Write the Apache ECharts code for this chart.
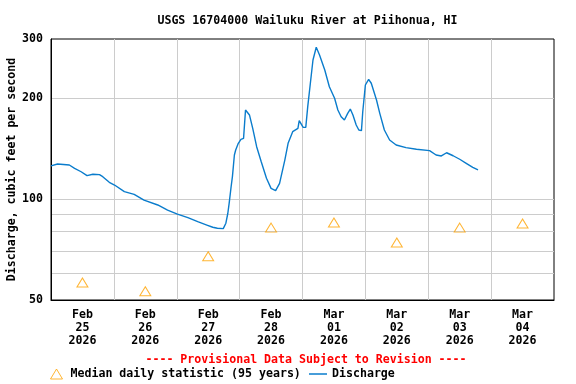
<!DOCTYPE html>
<html><head><meta charset="utf-8">
<script src="https://cdn.jsdelivr.net/npm/echarts@6/dist/echarts.min.js"></script>
<style>html,body{margin:0;padding:0;background:#fff}#c{width:576px;height:384px}</style>
</head><body><div id="c"></div>
<script>
const chartTitle = 'USGS 16704000 Wailuku River at Piihonua, HI';
const provisionalNote = '---- Provisional Data Subject to Revision ----';
const yAxisName = 'Discharge, cubic feet per second';
const medianName = 'Median daily statistic (95 years)';
const dischargeName = 'Discharge';

const medianTimes = ['2026-02-25T12:00','2026-02-26T12:00','2026-02-27T12:00','2026-02-28T12:00',
  '2026-03-01T12:00','2026-03-02T12:00','2026-03-03T12:00','2026-03-04T12:00'];
const medianValues = [56.4, 53.1, 67.5, 82.2, 85.1, 74.2, 82.2, 84.5];

const dischargeTimes = [
 '2026-02-25T00:00','2026-02-25T02:30','2026-02-25T07:00','2026-02-25T09:00','2026-02-25T11:30',
 '2026-02-25T13:45','2026-02-25T16:00','2026-02-25T18:30','2026-02-25T19:45','2026-02-25T22:15',
 '2026-02-26T00:15','2026-02-26T04:00','2026-02-26T07:45','2026-02-26T11:30','2026-02-26T16:45',
 '2026-02-26T20:30','2026-02-27T00:15','2026-02-27T04:15','2026-02-27T08:00','2026-02-27T11:45',
 '2026-02-27T13:45','2026-02-27T15:30','2026-02-27T17:45','2026-02-27T18:45','2026-02-27T19:30',
 '2026-02-27T20:00','2026-02-27T20:45','2026-02-27T21:15','2026-02-27T22:00','2026-02-27T22:30',
 '2026-02-27T23:30','2026-02-28T00:30','2026-02-28T01:30','2026-02-28T02:15','2026-02-28T02:45',
 '2026-02-28T03:45','2026-02-28T05:00','2026-02-28T06:30','2026-02-28T08:15','2026-02-28T10:15',
 '2026-02-28T12:00','2026-02-28T13:45','2026-02-28T15:15','2026-02-28T17:15','2026-02-28T18:30',
 '2026-02-28T20:15','2026-02-28T22:15','2026-02-28T22:45','2026-03-01T00:15','2026-03-01T01:15',
 '2026-03-01T02:00','2026-03-01T03:00','2026-03-01T04:00','2026-03-01T05:15','2026-03-01T06:30',
 '2026-03-01T08:30','2026-03-01T10:15','2026-03-01T12:15','2026-03-01T13:30','2026-03-01T14:45',
 '2026-03-01T16:00','2026-03-01T16:45','2026-03-01T17:15','2026-03-01T18:15','2026-03-01T19:15',
 '2026-03-01T20:30','2026-03-01T21:30','2026-03-01T22:30','2026-03-01T23:00','2026-03-02T00:00',
 '2026-03-02T01:15','2026-03-02T02:15','2026-03-02T04:15','2026-03-02T05:30','2026-03-02T07:15',
 '2026-03-02T09:15','2026-03-02T11:45','2026-03-02T15:30','2026-03-02T19:30','2026-03-03T00:30',
 '2026-03-03T03:00','2026-03-03T05:00','2026-03-03T07:00','2026-03-03T09:30','2026-03-03T12:00',
 '2026-03-03T14:30','2026-03-03T17:00','2026-03-03T19:00'];
const dischargeValues = [
 125.5,127.2,126.3,123.5,120.6,
 117.4,118.5,118.2,116.6,112.2,
 110.1,105.2,103.3,99.3,96.0,
 92.7,90.2,88.0,85.6,83.5,
 82.4,81.8,81.6,84.7,90.7,
 97.1,108.8,116.6,135.3,140.0,
 146.6,150.7,151.7,184.3,186.4,
 178.1,162.5,143.2,129.2,115.3,
 107.6,105.9,111.4,130.7,146.6,
 158.8,162.5,171.2,163.6,163.6,
 188.5,221.4,259.7,283.4,268.8,
 242.5,216.2,199.7,184.3,176.0,
 172.0,170.0,180.1,185.5,178.1,
 166.2,160.6,159.9,182.1,218.8,
 227.5,221.4,197.4,180.1,160.6,
 150.0,144.9,142.3,140.7,139.4,
 135.3,134.4,137.4,134.6,131.4,
 127.8,124.3,122.1];

const yMin = 50, yMax = 300;
const yLabelValues = [50, 100, 200, 300];
const yGridValues = [60, 70, 80, 90, 100, 200];
const xStart = '2026-02-25T00:00', xEnd = '2026-03-05T00:00';
const xLabelTimes = medianTimes;
const xGridTimes = ['2026-02-26T00:00','2026-02-27T00:00','2026-02-28T00:00','2026-03-01T00:00',
  '2026-03-02T00:00','2026-03-03T00:00','2026-03-04T00:00'];

const ts = s => new Date(s).getTime();
const MONTHS = ['Jan','Feb','Mar','Apr','May','Jun','Jul','Aug','Sep','Oct','Nov','Dec'];
const FONT = '"DejaVu Sans Mono", "Liberation Mono", monospace';
const FS = 11.6;
const ORANGE = '#ffa200';
const BLUE = '#0a7ccc';

const chart = echarts.init(document.getElementById('c'), null, {renderer: 'canvas'});
chart.setOption({
  animation: false,
  backgroundColor: '#fff',
  textStyle: {fontFamily: FONT, fontWeight: 'bold', fontSize: FS, color: '#000'},
  title: [
    {text: chartTitle, left: 302.5, top: 10, textAlign: 'center',
     textStyle: {fontFamily: FONT, fontWeight: 'bold', fontSize: FS, color: '#000'}},
    {text: provisionalNote, left: 301, top: 349, textAlign: 'center',
     textStyle: {fontFamily: FONT, fontWeight: 'bold', fontSize: FS, color: '#ff0000'}}
  ],
  grid: {left: 51, right: 22, top: 39, bottom: 84, outerBoundsMode: 'none', containLabel: false,
    show: true, borderColor: '#000', borderWidth: 1, backgroundColor: '#fff'},
  legend: [
    {data: [{name: medianName, icon: 'triangle', itemStyle: {color: '#fff', borderColor: ORANGE, borderWidth: 1}}],
     left: 45, top: 363, itemWidth: 12, itemHeight: 10, itemGap: 0,
     textStyle: {fontFamily: FONT, fontWeight: 'bold', fontSize: FS, color: '#000', padding: [0,0,0,3]}},
    {data: [{name: dischargeName, icon: 'rect', itemStyle: {color: BLUE}}],
     left: 304, top: 363, itemWidth: 18, itemHeight: 1.5, itemGap: 0,
     textStyle: {fontFamily: FONT, fontWeight: 'bold', fontSize: FS, color: '#000'}}
  ],
  xAxis: {
    type: 'value', min: ts(xStart), max: ts(xEnd),
    axisLine: {show: true, onZero: false, lineStyle: {color: '#000', width: 1}},
    axisTick: {show: false, customValues: xGridTimes.map(ts)},
    splitLine: {show: true, lineStyle: {color: '#cccccc', width: 1}},
    axisLabel: {
      customValues: xLabelTimes.map(ts), margin: 8, lineHeight: 13,
      fontFamily: FONT, fontWeight: 'bold', fontSize: FS, color: '#000',
      hideOverlap: false, showMinLabel: true, showMaxLabel: true,
      formatter: v => { const d = new Date(v); return MONTHS[d.getMonth()] + '\n' + String(d.getDate()).padStart(2,'0') + '\n' + d.getFullYear(); }
    }
  },
  yAxis: {
    type: 'log', logBase: 10, min: yMin, max: yMax,
    name: yAxisName, nameLocation: 'middle', nameRotate: 90, nameGap: 33, nameMoveOverlap: false,
    nameTextStyle: {fontFamily: FONT, fontWeight: 'bold', fontSize: FS, color: '#000'},
    axisLine: {show: true, lineStyle: {color: '#000', width: 1}},
    axisTick: {show: false, customValues: yGridValues},
    splitLine: {show: true, lineStyle: {color: '#cccccc', width: 1}},
    axisLabel: {customValues: yLabelValues, margin: 8, fontFamily: FONT, fontWeight: 'bold', fontSize: FS, color: '#000',
      showMinLabel: true, showMaxLabel: true}
  },
  series: [
    {name: medianName, type: 'scatter', symbol: 'triangle', symbolSize: [11, 9],
     itemStyle: {color: 'rgba(255,255,255,0)', borderColor: ORANGE, borderWidth: 1},
     data: medianTimes.map((t, i) => [ts(t), medianValues[i]]), z: 3},
    {name: dischargeName, type: 'line', showSymbol: false, symbol: 'none',
     lineStyle: {color: BLUE, width: 1.4}, itemStyle: {color: BLUE},
     data: dischargeTimes.map((t, i) => [ts(t), dischargeValues[i]]), z: 2}
  ]
});
</script></body></html>
